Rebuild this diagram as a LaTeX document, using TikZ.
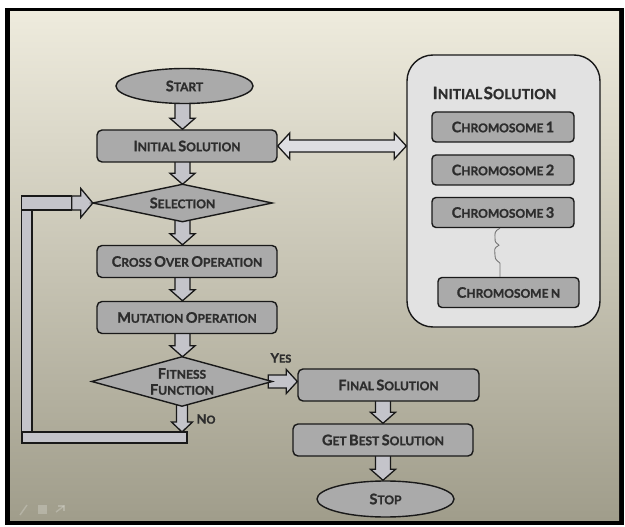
\documentclass[tikz,border=0pt]{standalone}
\usepackage{fontspec}
\setmainfont{Lato}[BoldFeatures={FakeBold=1.2}]
\usetikzlibrary{calc,shapes.geometric}
\pgfdeclarelayer{canvas}
\pgfdeclarelayer{behind}
\pgfsetlayers{canvas,behind,main}

\definecolor{bgtop}{RGB}{238,235,221}
\definecolor{bgmid}{RGB}{214,211,194}
\definecolor{bgbot}{RGB}{160,157,139}
\definecolor{boxgray}{RGB}{170,170,170}
\definecolor{arrgray}{RGB}{196,196,202}
\definecolor{lightgray}{RGB}{222,222,226}
\definecolor{panelgray}{RGB}{226,226,226}
\definecolor{txt}{RGB}{45,45,45}
\definecolor{edge}{RGB}{25,25,25}

% two-size capitals: big initial, smaller remaining letters
\def\bigsz{14.5}\def\smsz{12}
\newcommand\SCw[2]{{\fontsize{\bigsz}{16}\selectfont #1}{\fontsize{\smsz}{14}\selectfont #2}}
\newcommand\BigC[1]{{\fontsize{\bigsz}{16}\selectfont #1}}

% vertical block arrow pointing down: source, target, half shaft, half head, head length
\newcommand\vblock[5]{%
  \draw[blk] let \p1=(#1), \p2=(#2) in
    (\x1-#3pt,\y1) -- (\x1-#3pt,\y2+#5pt) -- (\x1-#4pt,\y2+#5pt) -- (\x1,\y2)
    -- (\x1+#4pt,\y2+#5pt) -- (\x1+#3pt,\y2+#5pt) -- (\x1+#3pt,\y1) -- cycle;}
% horizontal block arrow pointing right
\newcommand\hblock[5]{%
  \draw[blk] let \p1=(#1), \p2=(#2) in
    (\x1,\y1+#3pt) -- (\x2-#5pt,\y1+#3pt) -- (\x2-#5pt,\y1+#4pt) -- (\x2,\y1)
    -- (\x2-#5pt,\y1-#4pt) -- (\x2-#5pt,\y1-#3pt) -- (\x1,\y1-#3pt) -- cycle;}

\tikzset{
  box/.style={draw=edge, line width=1.4pt, fill=boxgray, rounded corners=5pt,
    minimum width=180pt, minimum height=32pt, inner sep=0pt, text=txt, font=\bfseries},
  chrom/.style={box, minimum width=142pt, minimum height=30pt, rounded corners=4pt},
  oval/.style={ellipse, draw=edge, line width=1.4pt, fill=boxgray,
    minimum width=137pt, minimum height=35pt, inner sep=0pt, text=txt, font=\bfseries},
  dia/.style={inner sep=0pt, text=txt, font=\bfseries},
  diashape/.style={draw=edge, line width=1.4pt, fill=boxgray, line join=miter},
  blk/.style={draw=edge, line width=1.3pt, fill=arrgray, line join=miter},
  dblk/.style={blk, fill=lightgray},
  panel/.style={draw=edge, line width=1.4pt, fill=panelgray, rounded corners=26pt,
    minimum width=193pt, minimum height=272pt, inner sep=0pt},
  lbl/.style={text=txt, font=\bfseries, inner sep=0pt},
  wave/.style={draw=black!55, line width=0.9pt},
}

\begin{document}
\begin{tikzpicture}[x=1pt,y=-1pt]
\useasboundingbox (0,0) rectangle (625,527);

% slide frame and background
\begin{pgfonlayer}{canvas}
  \fill[white] (0,0) rectangle (625,527);
  \fill[black] (5,8) rectangle (624,525);
  \shade[top color=bgtop, middle color=bgmid, bottom color=bgbot] (10,12) rectangle (619,520);
  % faint player controls
  \begin{scope}[white, opacity=0.22, line width=1.4pt]
    \draw (20,515) -- (27,505);
    \fill (38,505) rectangle (47,514);
    \draw (56,512) -- (64,506);
    \draw (58,506) -- (64,506) -- (64,511);
  \end{scope}
\end{pgfonlayer}

% main flow
\coordinate (ax) at (182.5,0);
\coordinate (bx) at (383,0);
\node[oval] (start) at (184.5,86) {\SCw{S}{TART}};
\node[box] (init) at (187,146) {\SCw{I}{NITIAL} \SCw{S}{OLUTION}};
\node[dia, minimum width=179pt, minimum height=37pt] (sel) at (182.5,203) {\SCw{S}{ELECTION}};
\node[box] (cross) at (187,261.5) {\SCw{C}{ROSS} \SCw{O}{VER} \SCw{O}{PERATION}};
\node[box] (mut) at (187,317.5) {\SCw{M}{UTATION} \SCw{O}{PERATION}};
\node[dia, minimum width=180pt, minimum height=49pt, align=center] (fit) at (182,381.5)
  {\SCw{F}{ITNESS}\\[4pt]\SCw{F}{UNCTION}};
\node[box, minimum width=181pt] (final) at (388.5,385) {\SCw{F}{INAL} \SCw{S}{OLUTION}};
\node[box] (best) at (383,440) {\SCw{G}{ET} \SCw{B}{EST} \SCw{S}{OLUTION}};
\node[oval, minimum height=36pt] (stop) at (385.5,499) {\SCw{S}{TOP}};

\node[lbl] (yes) at (281,358) {\def\bigsz{13}\def\smsz{11}\SCw{Y}{ES}};
\node[lbl] (no) at (206,419) {\def\bigsz{13}\def\smsz{11}\SCw{N}{O}};

% population panel
\node[panel] (pan) at (503.5,191) {};
\node[lbl] (ptitle) at (494.5,93) {\def\bigsz{17}\def\smsz{14}\SCw{I}{NITIAL}\hspace{-1pt} \SCw{S}{OLUTION}};
\node[chrom] (c1) at (503,127) {\SCw{C}{HROMOSOME} \BigC{1}};
\node[chrom] (c2) at (503,170) {\SCw{C}{HROMOSOME} \BigC{2}};
\node[chrom] (c3) at (503,212.5) {\SCw{C}{HROMOSOME} \BigC{3}};
\node[chrom, minimum width=141pt] (cN) at (508.5,292.5) {\SCw{C}{HROMOSOME} \SCw{}{N}};

% gap between chromosome 3 and chromosome N
\coordinate (wtop) at (c3.south -| 500,0);
\coordinate (wbot) at (cN.north -| 500,0);
\draw[wave] (wtop) .. controls +(-6,3) and +(0,-5) .. ($(wtop)+(-5,10)$)
  .. controls +(0,5) and +(-3,-3) .. ($(wtop)+(-1,17)$)
  .. controls +(-6,3) and +(0,-5) .. ($(wtop)+(-5,27)$)
  .. controls +(0,5) and +(-3,-3) .. ($(wtop)+(0,35)$) -- (wbot);

% feedback loop anchors
\coordinate (loopTL) at ($(sel.west)+(-71,-7)$);
\coordinate (loopBL) at (22,432);
\coordinate (loopBR) at (187,443);
\coordinate (loopJ) at ($(sel.west)+(-21,0)$);

\begin{pgfonlayer}{behind}
  % connectors
  \vblock{$(start.south -| ax)+(0,-4)$}{init.north -| ax}{7.5}{12.5}{11}
  \vblock{$(init.south -| ax)+(0,-2)$}{sel.north -| ax}{7.5}{12.5}{11}
  \vblock{$(sel.south -| ax)+(0,-4)$}{cross.north -| ax}{7.5}{12.5}{11}
  \vblock{$(cross.south -| ax)+(0,-2)$}{mut.north -| ax}{7.5}{12.5}{11}
  \vblock{$(mut.south -| ax)+(0,-2)$}{fit.north -| ax}{7.5}{12.5}{11}
  \vblock{$(final.south -| bx)+(0,-2)$}{best.north -| bx}{7.5}{12.5}{11}
  \vblock{$(best.south -| bx)+(0,-2)$}{stop.north -| bx}{7.5}{12.5}{11}
  \vblock{$(fit.south)+(0,-4)$}{fit.south |- loopBL}{5.5}{10.5}{10}
  \hblock{$(fit.east)+(-4,0)$}{final.west |- fit.east}{6.5}{12}{11}

  % double arrow between the solution box and the panel
  \draw[dblk] let \p1=(init.east), \p2=(pan.west |- init.east) in
    (\x1,\y1) -- (\x1+12pt,\y1+13pt) -- (\x1+12pt,\y1+6pt) -- (\x2-12pt,\y1+6pt)
    -- (\x2-12pt,\y1+13pt) -- (\x2,\y1) -- (\x2-12pt,\y1-13pt) -- (\x2-12pt,\y1-6pt)
    -- (\x1+12pt,\y1-6pt) -- (\x1+12pt,\y1-13pt) -- cycle;

  % feedback loop back into the selection step
  \draw[blk] (loopTL) rectangle (loopBL -| 32,0);
  \draw[blk] (loopTL) rectangle ($(loopJ)+(0,7)$);
  \hblock{loopJ}{sel.west}{7}{14.5}{12}
  \draw[blk] (loopBL) rectangle (loopBR);

  % decision shapes
  \draw[diashape] (sel.north) -- (sel.east) -- (sel.south) -- (sel.west) -- cycle;
  \draw[diashape] (fit.north) -- (fit.east) -- (fit.south) -- (fit.west) -- cycle;
\end{pgfonlayer}
\end{tikzpicture}
\end{document}
